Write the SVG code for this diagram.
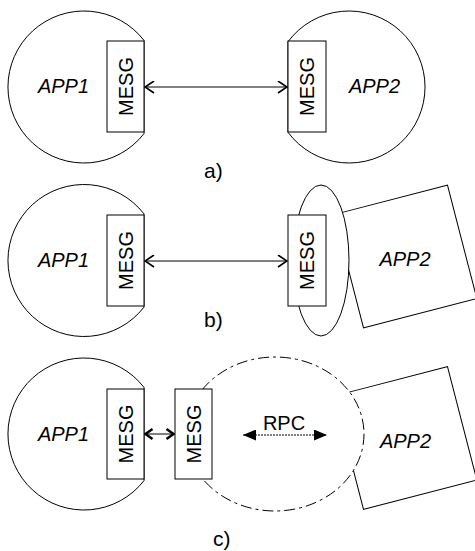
<svg xmlns="http://www.w3.org/2000/svg" width="475" height="551" viewBox="0 0 475 551">
<style>
.shape{fill:#fff;stroke:#000;stroke-width:1}
.dash{fill:#fff;stroke:#000;stroke-width:1;stroke-dasharray:11 4 3 4}
.app{font-family:"Liberation Sans",Arial,sans-serif;font-size:20px;font-style:italic;text-anchor:middle;fill:#000}
.mesg{font-family:"Liberation Sans",Arial,sans-serif;font-size:20px;text-anchor:middle;fill:#000}
.lbl{font-family:"Liberation Sans",Arial,sans-serif;font-size:21px;fill:#000}
.conn{stroke:#000;stroke-width:1;fill:none}
</style>
<defs>
<marker id="open" viewBox="0 0 11 13" refX="10" refY="6.5" markerWidth="11" markerHeight="13" markerUnits="userSpaceOnUse" orient="auto-start-reverse">
<path d="M1,0.5 L10,6.5 L1,12.5" fill="none" stroke="#000" stroke-width="1.6"/>
</marker>
<marker id="bold" viewBox="0 0 10 12" refX="9" refY="6" markerWidth="10" markerHeight="12" markerUnits="userSpaceOnUse" orient="auto-start-reverse">
<path d="M1.5,1 L8.5,6 L1.5,11" fill="none" stroke="#000" stroke-width="2.4"/>
</marker>
<marker id="tri" viewBox="0 0 13 11" refX="13" refY="5.5" markerWidth="13" markerHeight="11" markerUnits="userSpaceOnUse" orient="auto-start-reverse">
<path d="M0,0 L13,5.5 L0,11 Z" fill="#000"/>
</marker>
</defs>

<!-- Panel a -->
<g id="a-app1">
<path class="shape" d="M144,40.4 A76,76 0 1,0 144,133.6 Z"/>
<text class="app" x="63.5" y="93">APP1</text>
</g>
<g id="a-mesg1">
<rect class="shape" x="107" y="41" width="37" height="91"/>
<text class="mesg" transform="translate(132.5,86.5) rotate(-90)">MESG</text>
</g>
<g id="a-app2">
<path class="shape" d="M288,41.7 A76,76 0 1,1 288,132.3 Z"/>
<text class="app" x="374.5" y="93">APP2</text>
</g>
<g id="a-mesg2">
<rect class="shape" x="288" y="41" width="38" height="91"/>
<text class="mesg" transform="translate(314,86.5) rotate(-90)">MESG</text>
</g>
<text id="label-a" class="lbl" x="204" y="178">a)</text>

<!-- Panel b -->
<g id="b-app1">
<path class="shape" d="M144,213.9 A76,76 0 1,0 144,307.1 Z"/>
<text class="app" x="63.5" y="267">APP1</text>
</g>
<g id="b-mesg1">
<rect class="shape" x="107" y="215" width="37" height="91"/>
<text class="mesg" transform="translate(132.5,260.5) rotate(-90)">MESG</text>
</g>
<g id="b-app2">
<rect class="shape" x="-58.5" y="-58.5" width="117" height="117" transform="translate(405.5,256.5) rotate(-14.5)"/>
<text class="app" x="405" y="266">APP2</text>
</g>
<g id="b-ellipse">
<ellipse class="shape" cx="321" cy="260.5" rx="28" ry="75.5"/>
</g>
<g id="b-mesg2">
<rect class="shape" x="288" y="215" width="38" height="91"/>
<text class="mesg" transform="translate(314,260.5) rotate(-90)">MESG</text>
</g>
<text id="label-b" class="lbl" x="204" y="327">b)</text>

<!-- Panel c -->
<g id="c-app1">
<path class="shape" d="M144,387.4 A76,76 0 1,0 144,480.6 Z"/>
<text class="app" x="63.5" y="441">APP1</text>
</g>
<g id="c-mesg1">
<rect class="shape" x="107" y="389" width="37" height="90"/>
<text class="mesg" transform="translate(132.5,434) rotate(-90)">MESG</text>
</g>
<g id="c-app2">
<rect class="shape" x="-58.5" y="-58.5" width="117" height="117" transform="translate(405.5,438) rotate(-14.5)"/>
<text class="app" x="405.5" y="448">APP2</text>
</g>
<g id="c-rpc">
<ellipse class="dash" cx="275" cy="434" rx="89" ry="77"/>
<text class="mesg" x="284" y="430">RPC</text>
</g>
<g id="c-mesg2">
<rect class="shape" x="175" y="389" width="37" height="90"/>
<text class="mesg" transform="translate(200.5,434) rotate(-90)">MESG</text>
</g>
<text id="label-c" class="lbl" x="213" y="546">c)</text>

<g id="connectors">
<line class="conn" x1="145" y1="87" x2="287" y2="87" marker-start="url(#open)" marker-end="url(#open)"/>
<line class="conn" x1="145" y1="261" x2="287" y2="261" marker-start="url(#open)" marker-end="url(#open)"/>
<line class="conn" x1="145" y1="434" x2="174" y2="434" marker-start="url(#bold)" marker-end="url(#bold)"/>
<line class="conn" x1="243" y1="435" x2="327" y2="435" stroke-dasharray="2 1" marker-start="url(#tri)" marker-end="url(#tri)"/>
</g>
</svg>
